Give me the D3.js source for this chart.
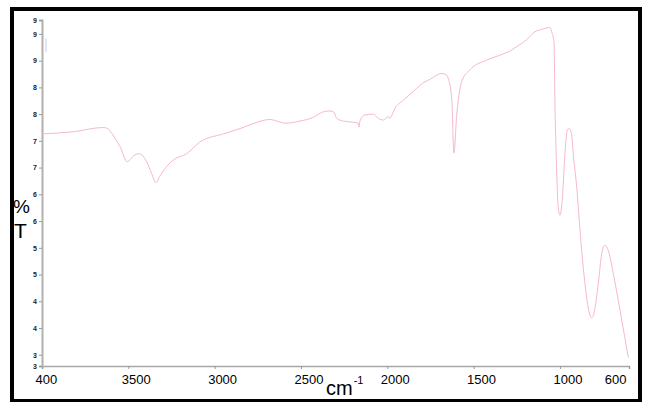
<!DOCTYPE html>
<html>
<head>
<meta charset="utf-8">
<script src="https://cdn.jsdelivr.net/npm/d3@7.8.5/dist/d3.min.js"></script>
<style>
  body { margin: 0; background: #fff; }
  svg { display: block; font-family: "Liberation Sans", Arial, sans-serif; }
</style>
</head>
<body>
<div id="chart"></div>
<script>
// Spectrum: wavenumber (cm-1) and %T
const wavenumbers = [4000, 3819, 3645, 3620, 3596, 3548, 3506, 3470, 3436, 3394, 3365, 3341, 3315, 3288,
  3240, 3162, 3085, 2950, 2911, 2853, 2795, 2679, 2630, 2593, 2506, 2429, 2380, 2332, 2310, 2293,
  2255, 2200, 2168, 2164, 2160, 2133, 2081, 2052, 2023, 1994, 1985, 1980, 1955, 1907, 1830, 1811,
  1753, 1685, 1660, 1647, 1627, 1614, 1598, 1585, 1569, 1521, 1424, 1350, 1279, 1251, 1193, 1145,
  1116, 1077, 1060, 1048, 1034, 1029, 1023, 1010, 1000, 984, 971, 957, 946, 932, 923, 903,
  888, 874, 855, 826, 816, 803, 778, 758, 739, 720, 691, 652, 604];
const transmittance = [76.3, 76.7, 77.5, 77.3, 76.4, 73.9, 71.1, 72.2, 72.6, 71.1, 68.9, 67.2, 68.5, 69.8,
  71.4, 72.6, 74.8, 76.3, 76.7, 77.3, 78.0, 79.0, 78.6, 78.3, 78.7, 79.4, 80.3, 80.6, 80.4, 79.2,
  78.7, 78.5, 78.3, 77.6, 78.5, 79.8, 80.0, 79.2, 78.9, 79.5, 79.2, 79.4, 81.1, 82.6, 84.8, 85.4,
  86.5, 87.6, 87.4, 86.7, 83.0, 72.7, 79.8, 83.5, 86.1, 88.3, 90.1, 91.0, 92.0, 92.6, 93.9, 95.4,
  95.75, 96.1, 96.2, 95.4, 93.3, 82.0, 73.9, 62.6, 61.1, 65.2, 72.6, 77.0, 77.3, 76.1, 72.6, 66.4,
  60.2, 54.5, 48.3, 42.4, 41.9, 42.7, 48.3, 53.9, 55.5, 54.5, 50.2, 43.3, 34.5];

// small stray mark near the top-left of the plot
const strayWave = [3977, 3977];
const strayT = [94.1, 91.6];

const xTickValues = [4000, 3500, 3000, 2500, 2000, 1500, 1000, 600];
const xTickLabels = ["400", "3500", "3000", "2500", "2000", "1500", "1000", "600"];
const yTickValues = [32.9, 35, 40, 45, 50, 55, 60, 65, 70, 75, 80, 85, 90, 95, 97.6];
const yTickLabels = ["3", "3", "4", "4", "5", "5", "6", "6", "7", "7", "8", "8", "9", "9", "9"];

const width = 647, height = 402;
const plot = { left: 42, right: 629, top: 20, bottom: 366 };

const svg = d3.select('#chart').append('svg')
    .attr('width', width)
    .attr('height', height);

const x = d3.scaleLinear().domain([4000, 600]).range([plot.left, plot.right]);
const y = d3.scaleLinear().domain([32.9, 97.6]).range([plot.bottom, plot.top]);

// Frame
svg.append('rect')
    .attr('x', 12).attr('y', 9)
    .attr('width', 628).attr('height', 392)
    .attr('fill', 'none')
    .attr('stroke', '#000')
    .attr('stroke-width', 4);

// Axes
const xAxis = svg.append('g')
    .attr('transform', `translate(0,${plot.bottom})`)
    .call(d3.axisBottom(x)
        .tickValues(xTickValues)
        .tickSize(3)
        .tickFormat((d, i) => xTickLabels[i]));

xAxis.select('.domain').attr('stroke', '#a8a8a8').attr('stroke-width', 1.5);
xAxis.selectAll('.tick line').attr('stroke', '#999');
xAxis.selectAll('.tick text')
    .attr('fill', '#000')
    .attr('font-size', 13)
    .attr('y', 9)
    .attr('dy', '0.71em')
    .attr('text-anchor', (d, i) => i === xTickValues.length - 1 ? 'end' : 'start')
    .attr('dx', (d, i) => i === xTickValues.length - 1 ? -3 : -7);

const yAxis = svg.append('g')
    .attr('transform', `translate(${plot.left},0)`)
    .call(d3.axisLeft(y)
        .tickValues(yTickValues)
        .tickSize(3)
        .tickFormat((d, i) => yTickLabels[i]));

yAxis.select('.domain').attr('stroke', '#b0b0b0').attr('stroke-width', 2);
yAxis.selectAll('.tick line').attr('stroke', '#999');
yAxis.selectAll('.tick text')
    .attr('fill', '#222')
    .attr('font-size', 7)
    .attr('font-weight', 'bold')
    .attr('x', -5);

// Axis titles
svg.append('text')
    .attr('x', 13).attr('y', 213)
    .attr('font-size', 19)
    .text('%');
svg.append('text')
    .attr('x', 14).attr('y', 238)
    .attr('font-size', 21)
    .text('T');

const xTitle = svg.append('text')
    .attr('x', 326).attr('y', 395)
    .attr('font-size', 20);
xTitle.append('tspan').text('cm');
xTitle.append('tspan')
    .attr('font-size', 11)
    .attr('dy', -11)
    .attr('dx', 1)
    .text('-1');

// Spectrum line
const points = wavenumbers.map((w, i) => [w, transmittance[i]]);
const line = d3.line()
    .x(d => x(d[0]))
    .y(d => y(d[1]))
    .curve(d3.curveMonotoneX);

svg.append('path')
    .datum(points)
    .attr('d', line)
    .attr('fill', 'none')
    .attr('stroke', '#f7b8ca')
    .attr('stroke-width', 1);

svg.append('path')
    .datum(strayWave.map((w, i) => [w, strayT[i]]))
    .attr('d', d3.line().x(d => x(d[0])).y(d => y(d[1])))
    .attr('stroke', '#c4cbe4')
    .attr('stroke-width', 1);
</script>
</body>
</html>
